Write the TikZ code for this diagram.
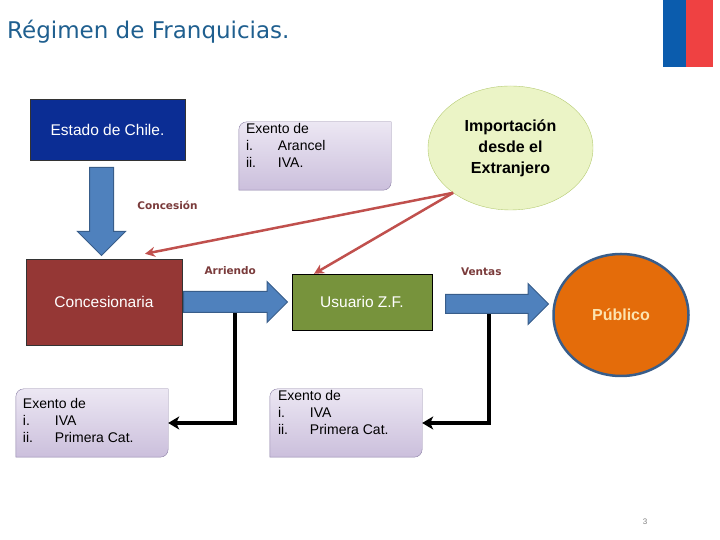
\documentclass[tikz,border=0pt]{standalone}
\usepackage{fontspec}
\setmainfont{Liberation Sans}
\newfontfamily\tahoma{DejaVu Sans}
\usetikzlibrary{arrows.meta,positioning,shapes.geometric,shapes.arrows,backgrounds}
\definecolor{titleblue}{HTML}{1F5F8F}
\definecolor{flagblue}{HTML}{0B5CAD}
\definecolor{flagred}{HTML}{EF4142}
\definecolor{estado}{HTML}{0B2D94}
\definecolor{conces}{HTML}{953735}
\definecolor{usuario}{HTML}{77933C}
\definecolor{arrowblue}{HTML}{4F81BD}
\definecolor{arrowedge}{HTML}{385D8A}
\definecolor{wine}{HTML}{7A3B3B}
\definecolor{redline}{HTML}{C0504D}
\definecolor{publico}{HTML}{E46C0A}
\definecolor{publicotext}{HTML}{FCE4B0}
\definecolor{impofill}{HTML}{EBF4C6}
\definecolor{impoedge}{HTML}{B5CB73}
\definecolor{lilatop}{HTML}{ECE7F3}
\definecolor{lilabot}{HTML}{CBBFDC}
\definecolor{lilaedge}{HTML}{8C80A6}
\newcommand{\fsz}[2]{\fontsize{#1}{#2}\selectfont}
\newcommand{\tabi}[1]{\makebox[32pt][l]{#1}}

\begin{document}
\begin{tikzpicture}[x=1pt,y=1pt,
    blockarrow/.style={single arrow,fill=arrowblue,draw=arrowedge,line width=1pt,
      inner sep=0pt,text height=#1,text depth=0pt,anchor=tail},
    flowlabel/.style={text=wine,font=\tahoma\bfseries\fsz{10.5}{12}},
    exframe/.style={minimum width=152pt,minimum height=68pt,inner sep=0pt},
    extext/.style={inner sep=0pt,align=left,font=\fsz{14}{17}},
    redarrow/.style={draw=redline,line width=2.5pt,-{Stealth[length=10pt,width=10pt]}},
    blackarrow/.style={line width=3.5pt,-{Stealth[length=11pt,width=13pt,inset=3pt]}}]
  \useasboundingbox (0,0) rectangle (720,540);

  % cabecera
  \node[anchor=west,inner sep=0pt,text=titleblue,font=\tahoma\fsz{23}{26}] (title) at (7,508) {Régimen de Franquicias.};
  \fill[flagblue] (663,473) rectangle (686,540);
  \fill[flagred] (686,473) rectangle (713,540);

  % actores
  \node[rectangle,fill=estado,draw=black!80,text=white,minimum width=155pt,minimum height=61pt,
    font=\fsz{15.5}{18}] (estado) at (107.5,410.5) {Estado de Chile.};
  \node[rectangle,fill=conces,draw=black!80,text=white,minimum width=156pt,minimum height=86pt,
    font=\fsz{15.5}{18}] (conces) at (104,238) {Concesionaria};
  \node[rectangle,fill=usuario,draw=black,text=white,minimum width=140pt,minimum height=56pt,
    font=\fsz{15.5}{18}] (usuario) at (362,238) {Usuario Z.F.};
  \node[ellipse,fill=impofill,draw=impoedge,minimum width=165pt,minimum height=124pt,
    align=center,font=\bfseries\fsz{16}{21}] (impo) at (510.5,392) {Importación\\desde el\\Extranjero};
  \node[ellipse,fill=publico,draw=arrowedge,line width=2.5pt,text=publicotext,minimum width=135pt,
    minimum height=122pt,font=\bfseries\fsz{16}{19}] (publico) at (621,225) {Público};

  % exenciones
  \node[exframe] (exArancel) at (315,384) {};
  \node[exframe] (exConces) at (92,117) {};
  \node[exframe] (exUsuario) at (346,117) {};
  \node[extext,below right=1pt and 7pt of exArancel.north west] (txArancel)
    {Exento de\\\tabi{i.}Arancel\\\tabi{ii.}IVA.};
  \node[extext,below right=9pt and 7pt of exConces.north west] (txConces)
    {Exento de\\\tabi{i.}IVA\\\tabi{ii.}Primera Cat.};
  \node[extext,below right=1pt and 8pt of exUsuario.north west] (txUsuario)
    {Exento de\\\tabi{i.}IVA\\\tabi{ii.}Primera Cat.};
  \begin{scope}[on background layer]
    \foreach \b in {exArancel,exConces,exUsuario}
      \draw[lilaedge,top color=lilatop,bottom color=lilabot]
        (\b.south west) -- ([yshift=-8pt]\b.north west) arc[start angle=180,end angle=90,radius=8pt]
        -- (\b.north east) -- ([yshift=8pt]\b.south east) arc[start angle=0,end angle=-90,radius=8pt]
        -- cycle;
  \end{scope}

  % conectores negros
  \draw[blackarrow] (235,228) |- (exConces.east);
  \draw[blackarrow] (489,228) |- (exUsuario.east);

  % flechas de bloque
  \node[blockarrow=23pt,single arrow head extend=12pt,minimum height=88pt,rotate=-90] (concesion) at (101.5,373) {};
  \node[blockarrow=20pt,single arrow head extend=10pt,minimum height=104pt] (arriendo) at (183,238) {};
  \node[blockarrow=18pt,single arrow head extend=11pt,minimum height=103pt] (ventas) at (445,236) {};
  \node[flowlabel] at ([xshift=66pt]concesion.center) {Concesión};
  \node[flowlabel,above=13pt of arriendo] {Arriendo};
  \node[flowlabel,above=15pt of ventas,xshift=-11pt] {Ventas};

  % importaciones
  \draw[redarrow] (impo.218) -- ([xshift=41pt,yshift=5pt]conces.north);
  \draw[redarrow] (impo.218) -- ([xshift=-48pt]usuario.north);

  \node[text=gray,font=\fsz{8}{9}] (pagenum) at (645,18) {3};
\end{tikzpicture}
\end{document}
